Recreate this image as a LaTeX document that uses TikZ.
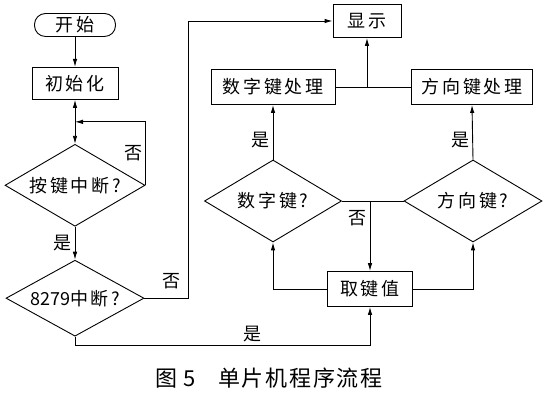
\documentclass[tikz,border=0pt]{standalone}
\usepackage{fontspec}
\usepackage{tikz}
\usetikzlibrary{shapes,arrows,arrows.meta,positioning,calc}
\newfontfamily\cjk[LetterSpace=15]{Noto Sans CJK SC}
\newfontfamily\cjkplain{Noto Sans CJK SC}
\newfontfamily\cjkcap[LetterSpace=8]{Noto Sans CJK SC}
\newcommand\boxfont{\cjk\fontsize{18}{20}\selectfont}
\newcommand\capfont{\cjkcap\fontsize{22}{24}\selectfont}

\begin{document}
\begin{tikzpicture}[
    x=1pt, y=1pt,
    >={Latex[length=8pt, width=4.5pt]},
    every path/.style={line width=0.9pt},
    box/.style={rectangle, draw, minimum height=33pt, inner xsep=5pt, font=\boxfont},
    term/.style={box, rounded corners=11pt, minimum width=81pt, minimum height=23pt, inner ysep=1pt},
    cond/.style={diamond, draw, shape aspect=1.7, minimum width=140pt, minimum height=82pt, inner sep=0pt, font=\boxfont},
    lbl/.style={font=\boxfont, inner sep=3pt}
]
    \useasboundingbox (0,0) rectangle (551,398);

    % Main loop
    \node[term] (start) at (75,373) {开始};
    \node[box, minimum width=86pt, minimum height=32pt, below=30pt of start] (init) {初始化};
    \node[cond, below=44pt of init] (key) {按键中断?};
    \node[cond, shape aspect=1.8, minimum width=138pt, minimum height=76pt, below=33pt of key] (chip) {{\cjkplain 8279}中断?};

    % Key handling
    \node[box, minimum width=68pt] (disp) at (367,377) {显示};
    \node[box, minimum width=124pt, minimum height=35pt] (digproc) at (273,311) {数字键处理};
    \node[box, minimum width=121pt, minimum height=35pt] (dirproc) at (472,311) {方向键处理};
    \node[cond, minimum width=137pt] (dig) at (273,197) {数字键?};
    \node[cond, minimum width=138pt] (dir) at (473,197) {方向键?};
    \node[box, minimum width=85pt, minimum height=35pt] (val) at (370,109) {取键值};

    % Caption
    \node[font=\capfont] (cap) at (269,20) {图 5\quad 单片机程序流程};

    % Edges
    \draw[->] (start) -- (init);
    \draw[<->] (init) -- (key);
    \draw[->] (key.east) |- ($(init.south)!0.5!(key.north)$) node[lbl, pos=0.25, left] {否};
    \draw[->] (key.south) -- node[lbl, left] {是} (chip.north);
    \draw[->] (chip.east) -- node[lbl, above, xshift=5pt, yshift=6pt] {否} ++(44,0) |- (disp.west);
    \coordinate (yesturn) at ($(chip.south)+(0,-9)$);
    \draw[->] (chip.south) -- (yesturn) -| (val.south) node[lbl, pos=0.3, above] {是};

    \draw[->] (val.west) -| (dig.south);
    \draw[->] (val.east) -| (dir.south);
    \draw (dig.east) -- (dir.west);
    \draw[->] (val.north |- dig.east) -- node[lbl, pos=0.25, left] {否} (val.north);
    \draw[->] (dig.north) -- node[lbl, pos=0.35, left] {是} (digproc.south);
    \draw[->] (dir.north) -- node[lbl, pos=0.35, left] {是} (dirproc.south);
    \draw (digproc.east) -- (dirproc.west);
    \draw[->] (disp.south |- digproc.east) -- (disp.south);
\end{tikzpicture}
\end{document}
